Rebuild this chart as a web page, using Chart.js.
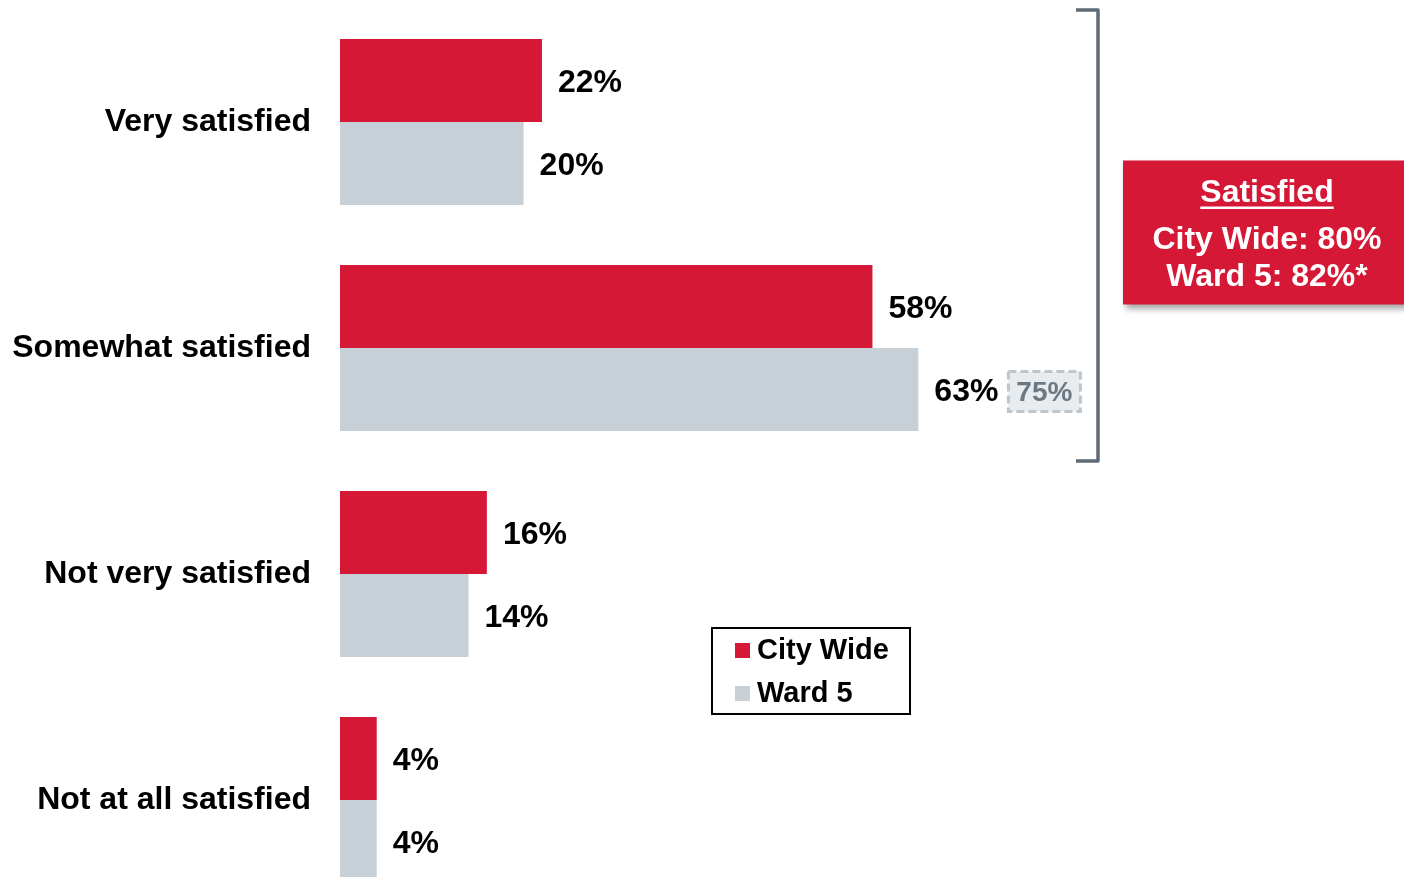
<!DOCTYPE html>
<html>
<head>
<meta charset="utf-8">
<script src="https://cdn.jsdelivr.net/npm/chart.js@4.4.1/dist/chart.umd.min.js"></script>
<style>
  body { margin: 0; background: #fff; overflow: hidden; }
  #wrap { width: 1404px; height: 913px; }
</style>
</head>
<body>
<div id="wrap"><canvas id="satChart"></canvas></div>
<script>
const categories = ["Very satisfied", "Somewhat satisfied", "Not very satisfied", "Not at all satisfied"];
const cityWide = [22, 58, 16, 4];
const ward5 = [20, 63, 14, 4];
const ward5Prior = [null, 75, null, null];
const summaryLabels = ["City Wide", "Ward 5"];
const summaryValues = [80, 82];
const summaryNotes = ["", "*"];

const RED = "#D51836";
const GRAY = "#C8D0D7";
const FONT = "'Liberation Sans', Arial, sans-serif";

// percent labels next to each bar, plus the earlier Ward 5 figure in a dashed box
const valueLabels = {
    id: "valueLabels",
    afterDatasetsDraw(chart) {
        const ctx = chart.ctx;
        ctx.save();
        ctx.textBaseline = "middle";
        chart.data.datasets.forEach((ds, i) => {
            chart.getDatasetMeta(i).data.forEach((bar, j) => {
                const txt = ds.data[j] + "%";
                ctx.font = "bold 32px " + FONT;
                ctx.fillStyle = "#000";
                ctx.textAlign = "left";
                ctx.fillText(txt, bar.x + 16, bar.y + 3);
                if (i === 1 && ward5Prior[j] != null) {
                    const bx = bar.x + 16 + ctx.measureText(txt).width + 10;
                    const by = bar.y - 18;
                    ctx.fillStyle = "#E9ECEF";
                    ctx.fillRect(bx, by, 72, 40);
                    ctx.setLineDash([8, 4]);
                    ctx.strokeStyle = "#BEC5CB";
                    ctx.lineWidth = 3;
                    ctx.strokeRect(bx, by, 72, 40);
                    ctx.setLineDash([]);
                    ctx.font = "bold 28px " + FONT;
                    ctx.fillStyle = "#6C7882";
                    ctx.textAlign = "center";
                    ctx.fillText(ward5Prior[j] + "%", bx + 36, by + 22);
                }
            });
        });
        ctx.restore();
    }
};

// bracket over the two "satisfied" rows and the summary box beside it
const summaryBox = {
    id: "summaryBox",
    afterDraw(chart) {
        const ctx = chart.ctx;
        const y = chart.scales.y;
        const pitch = y.getPixelForValue(1) - y.getPixelForValue(0);
        const top = y.getPixelForValue(0) - pitch / 2 + 1;
        const bottom = y.getPixelForValue(1) + pitch / 2;
        const bx = 1098;

        ctx.save();
        ctx.strokeStyle = "#5E6A74";
        ctx.lineWidth = 3.5;
        ctx.lineJoin = "round";
        ctx.beginPath();
        ctx.moveTo(bx - 22, top);
        ctx.lineTo(bx, top);
        ctx.lineTo(bx, bottom);
        ctx.lineTo(bx - 22, bottom);
        ctx.stroke();

        const mid = (top + bottom) / 2;
        const boxTop = mid - 75;
        ctx.shadowColor = "rgba(0,0,0,0.35)";
        ctx.shadowBlur = 6;
        ctx.shadowOffsetX = 3;
        ctx.shadowOffsetY = 4;
        ctx.fillStyle = RED;
        ctx.fillRect(1123, boxTop, 300, 144);
        ctx.shadowColor = "transparent";

        const cx = 1267;
        ctx.fillStyle = "#fff";
        ctx.textAlign = "center";
        ctx.textBaseline = "middle";
        ctx.font = "bold 32px " + FONT;
        ctx.fillText("Satisfied", cx, boxTop + 33);
        const w = ctx.measureText("Satisfied").width;
        ctx.fillRect(cx - w / 2, boxTop + 46, w, 2.5);
        summaryLabels.forEach((lab, k) => {
            ctx.fillText(lab + ": " + summaryValues[k] + "%" + summaryNotes[k], cx, boxTop + 80 + k * 37);
        });
        ctx.restore();
    }
};

// boxed legend placed inside the plot
const boxLegend = {
    id: "boxLegend",
    afterDraw(chart) {
        const ctx = chart.ctx;
        ctx.save();
        ctx.strokeStyle = "#000";
        ctx.lineWidth = 2;
        ctx.strokeRect(712, 628, 198, 86);
        ctx.font = "bold 29px " + FONT;
        ctx.textBaseline = "middle";
        ctx.textAlign = "left";
        chart.data.datasets.forEach((ds, i) => {
            const yy = 650 + i * 43;
            ctx.fillStyle = ds.backgroundColor;
            ctx.fillRect(735, yy - 7, 15, 15);
            ctx.fillStyle = "#000";
            ctx.fillText(ds.label, 757, yy + 1);
        });
        ctx.restore();
    }
};

new Chart(document.getElementById("satChart"), {
    type: "bar",
    data: {
        labels: categories,
        datasets: [
            { label: "City Wide", data: cityWide, backgroundColor: RED },
            { label: "Ward 5", data: ward5, backgroundColor: GRAY }
        ]
    },
    options: {
        indexAxis: "y",
        responsive: true,
        maintainAspectRatio: false,
        animation: false,
        datasets: {
            bar: { categoryPercentage: 0.7345, barPercentage: 1 }
        },
        layout: { padding: { top: 9, right: 146, left: 0, bottom: 0 } },
        plugins: {
            legend: { display: false },
            tooltip: { enabled: false }
        },
        scales: {
            x: { display: false, min: 0, max: 100 },
            y: {
                afterFit(scale) {
                    scale.width = 340;
                    scale.paddingTop = 0;
                    scale.paddingBottom = 0;
                },
                grid: { display: false, drawTicks: false },
                border: { display: false },
                ticks: {
                    padding: 29,
                    color: "#000",
                    font: { family: FONT, size: 32, weight: "bold" }
                }
            }
        }
    },
    plugins: [valueLabels, summaryBox, boxLegend]
});
</script>
</body>
</html>
